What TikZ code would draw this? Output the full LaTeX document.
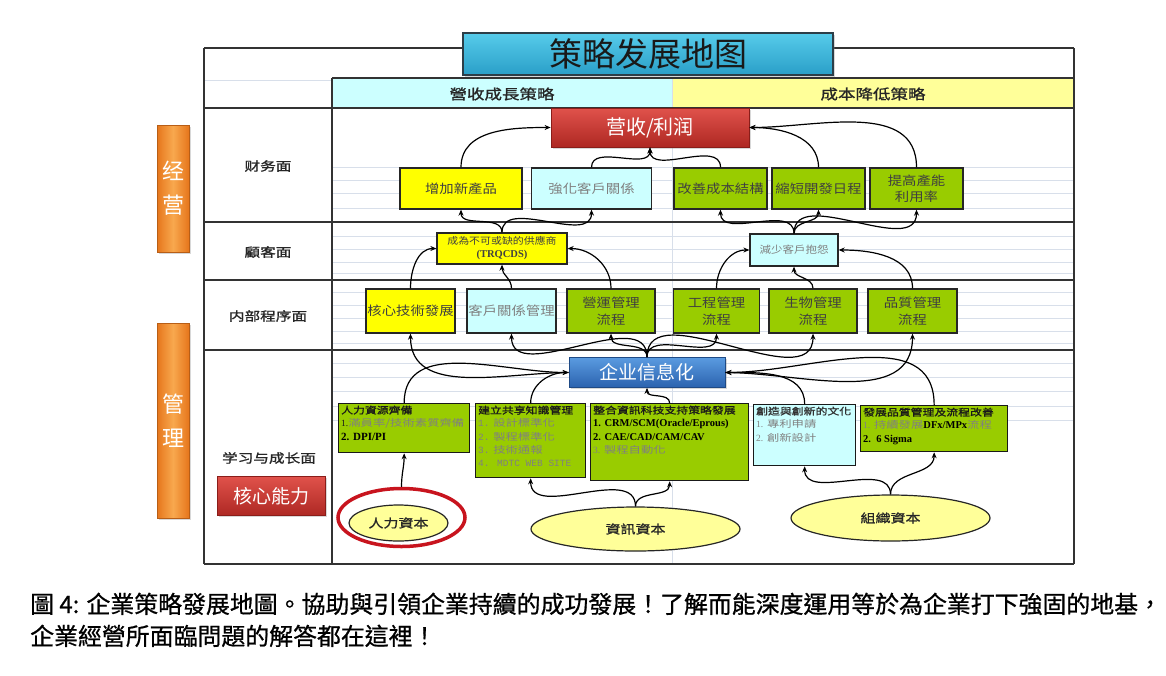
\documentclass[tikz,border=0pt]{standalone}
\usepackage{fontspec}
\newfontfamily\cjktc{Noto Sans CJK TC}
\newfontfamily\cjkcap{Noto Sans CJK TC}[FakeBold=0.8]
\newfontfamily\cjksc{Noto Sans CJK SC}
\newfontfamily\cjkw{Noto Sans CJK TC}[FakeStretch=1.15]
\newfontfamily\cjkww{Noto Sans CJK TC}[FakeStretch=1.3]
\newfontfamily\cjkwb{Noto Sans CJK TC}[FakeStretch=1.25,FakeBold=1.2]
\newfontfamily\lat{Liberation Serif}
\newfontfamily\mono{Liberation Mono}
\usetikzlibrary{arrows.meta,shapes.geometric,shadows}
\definecolor{byellow}{HTML}{FFFF00}
\definecolor{bcyan}{HTML}{CCFFFF}
\definecolor{bgreen}{HTML}{99CC00}
\definecolor{hyellow}{HTML}{FFFF99}
\definecolor{eyellow}{HTML}{FFFF99}
\definecolor{gridc}{HTML}{D8DFEA}
\definecolor{redT}{HTML}{E0524B}
\definecolor{redB}{HTML}{AE2823}
\definecolor{redD}{HTML}{8A1D19}
\definecolor{bluT}{HTML}{5A9BE0}
\definecolor{bluB}{HTML}{2B62AE}
\definecolor{bluD}{HTML}{1F4A85}
\definecolor{titT}{HTML}{56CBEA}
\definecolor{titB}{HTML}{2A9FC8}
\definecolor{titD}{HTML}{2C3E48}
\definecolor{orL}{HTML}{E6761C}
\definecolor{orM}{HTML}{F8A84E}
\definecolor{ringc}{HTML}{C8141E}
\begin{document}
\begin{tikzpicture}[x=1pt,y=-1pt,
  box/.style={draw=black!85, line width=1.3pt, inner sep=1pt, align=center, font=\cjkw\fontsize{12.5}{15}\selectfont},
  ybox/.style={box, fill=byellow, text=black!75},
  cbox/.style={box, fill=bcyan, text=black!50},
  gbox/.style={box, fill=bgreen, text=black!75},
  lbox/.style={draw=black!90, line width=1.3pt, inner sep=0pt, anchor=north west},
  ltext/.style={anchor=north west, inner sep=0pt, align=left, font=\cjkww\fontsize{9.5}{13.2}\selectfont, text=black!50},
  ell/.style={ellipse, draw=black!85, line width=1.2pt, fill=eyellow, inner sep=0pt, font=\cjkwb\fontsize{12}{14}\selectfont, text=black!85},
  conn/.style={draw=black, line width=1.2pt, -{Stealth[length=6pt,width=5pt]}},
  gridl/.style={draw=gridc, line width=0.8pt},
  tline/.style={draw=black!80, line width=1.5pt},
  rowlab/.style={font=\cjkwb\fontsize{12.5}{14}\selectfont, text=black!85},
  hdr/.style={font=\cjkwb\fontsize{14}{16}\selectfont, text=black!85},
  shd/.style={drop shadow={opacity=0.3,shadow xshift=1.5pt,shadow yshift=-1.5pt}},
  redbox/.style={shd, draw=redD, line width=0.8pt, top color=redT, bottom color=redB, text=white, font=\cjksc\fontsize{20}{24}\selectfont},
  obar/.style={shd, draw=orL!80!black, line width=0.6pt, left color=orL, right color=orL, middle color=orM, minimum width=32pt, text=white, align=center, font=\cjksc\fontsize{22}{34}\selectfont},
]
\useasboundingbox (0,0) rectangle (1166,675);
\fill[white] (0,0) rectangle (1166,675);

% faint grid lines
\foreach \yy in {167,180,193,208,236,249,262,273,292,305,318,331,343,363,377,391,406,420}
  \draw[gridl] (332,\yy) -- (1074,\yy);
\draw[gridl] (204,80) -- (332,80);
\draw[gridl] (672,108) -- (672,564);

% header cells
\fill[bcyan] (332,78) rectangle (672,108);
\fill[hyellow] (672,78) rectangle (1074,108);
\draw[gridl] (672,78) -- (672,108);

% table lines
\draw[tline] (204,48) -- (1074,48);
\draw[tline] (204,48) -- (204,564);
\draw[tline] (1074,48) -- (1074,564);
\draw[tline] (204,564) -- (1074,564);
\draw[tline] (332,78) -- (1074,78);
\draw[tline] (332,78) -- (332,564);
\foreach \yy in {108,222,280,350}
  \draw[tline] (204,\yy) -- (1074,\yy);

% headers
\node[hdr] (h1) at (502,94) {營收成長策略};
\node[hdr] (h2) at (873,94) {成本降低策略};

% row labels
\node[rowlab] (r1) at (268,166) {财务面};
\node[rowlab] (r2) at (268,252) {顧客面};
\node[rowlab] (r3) at (268,316) {内部程序面};
\node[rowlab] (r4) at (269,458) {学习与成长面};
\node[redbox, minimum width=108pt, minimum height=39pt, font=\cjktc\fontsize{19}{22}\selectfont] (core) at (271,496) {核心能力};

% orange side bars
\node[obar, minimum height=127pt] (jy) at (173,188.5) {经\\营};
\node[obar, minimum height=195pt] (gl) at (173,420.5) {管\\理};

% revenue box
\node[redbox, minimum width=198pt, minimum height=39pt] (rev) at (650,127.5) {营收/利润};

% financial row
\node[ybox, minimum width=122pt, minimum height=41pt] (f1) at (461,188.5) {增加新產品};
\node[cbox, minimum width=120pt, minimum height=41pt] (f2) at (591.5,188.5) {強化客戶關係};
\node[gbox, minimum width=93pt, minimum height=41pt] (f3) at (720.5,188.5) {改善成本結構};
\node[gbox, minimum width=93pt, minimum height=41pt] (f4) at (818.5,188.5) {縮短開發日程};
\node[gbox, minimum width=93pt, minimum height=41pt, font=\cjkw\fontsize{12.5}{16}\selectfont] (f5) at (916.5,188.5) {提高產能\\利用率};

% customer row
\node[ybox, minimum width=130pt, minimum height=31pt, font=\cjkw\fontsize{9.5}{13}\selectfont] (c1) at (502,248.5) {成為不可或缺的供應商\\{\lat\bfseries\fontsize{10.5}{13}\selectfont (TRQCDS)}};
\node[cbox, minimum width=88pt, minimum height=32pt, font=\cjkw\fontsize{10}{13}\selectfont] (c2) at (794,250) {減少客戶抱怨};

% internal row
\node[ybox, minimum width=89pt, minimum height=44pt] (i1) at (410.5,311) {核心技術發展};
\node[cbox, minimum width=89pt, minimum height=44pt] (i2) at (511.5,311) {客戶關係管理};
\node[gbox, minimum width=88pt, minimum height=44pt, font=\cjkw\fontsize{12.5}{17}\selectfont] (i3) at (611,311) {營運管理\\流程};
\node[gbox, minimum width=86pt, minimum height=44pt, font=\cjkw\fontsize{12.5}{17}\selectfont] (i4) at (716.5,311) {工程管理\\流程};
\node[gbox, minimum width=88pt, minimum height=44pt, font=\cjkw\fontsize{12.5}{17}\selectfont] (i5) at (813,311) {生物管理\\流程};
\node[gbox, minimum width=89pt, minimum height=44pt, font=\cjkw\fontsize{12.5}{17}\selectfont] (i6) at (912.5,311) {品質管理\\流程};

% IT box
\node[shd, draw=bluD, line width=0.8pt, top color=bluT, bottom color=bluB, text=white, font=\cjksc\fontsize{19}{22}\selectfont, minimum width=156pt, minimum height=30pt] (it) at (647,372.5) {企业信息化};

% learning boxes
\node[lbox, fill=bgreen, minimum width=131pt, minimum height=49pt] (l1) at (338,403) {};
\node[lbox, fill=bgreen, minimum width=110pt, minimum height=74pt] (l2) at (475,403) {};
\node[lbox, fill=bgreen, minimum width=158pt, minimum height=77pt] (l3) at (590,403) {};
\node[lbox, fill=bcyan, minimum width=102pt, minimum height=61pt] (l4) at (753,404) {};
\node[lbox, fill=bgreen, minimum width=147pt, minimum height=46pt] (l5) at (860,405) {};

\node[ltext] (t1) at ([xshift=3pt,yshift=-2.5pt]l1.north west) {{\cjkwb\color{black!90}人力資源齊備}\\{\lat\color{black!90}1.}滿員率/技術素質齊備\\{\lat\bfseries\fontsize{11}{13.2}\selectfont\color{black} 2. DPI/PI}};
\node[ltext] (t2) at ([xshift=3pt,yshift=-2.5pt]l2.north west) {{\cjkwb\color{black!90}建立共享知識管理}\\{\mono 1.} 設計標準化\\{\mono 2.} 製程標準化\\{\mono 3.} 技術通報\\{\mono\fontsize{9.5}{13.2}\selectfont 4. MDTC WEB SITE}};
\node[ltext] (t3) at ([xshift=3pt,yshift=-2.5pt]l3.north west) {{\cjkwb\color{black!90}整合資訊科技支持策略發展}\\{\lat\bfseries\fontsize{10.5}{13.2}\selectfont\color{black}1. CRM/SCM(Oracle/Eprous)}\\{\lat\bfseries\fontsize{10.5}{13.2}\selectfont\color{black}2. CAE/CAD/CAM/CAV}\\{\lat 3.} 製程自動化};
\node[ltext] (t4) at ([xshift=3pt,yshift=-2.5pt]l4.north west) {{\cjkwb\color{black!80}創造與創新的文化}\\{\lat 1.} 專利申請\\{\lat 2.} 創新設計};
\node[ltext] (t5) at ([xshift=3pt,yshift=-2.5pt]l5.north west) {{\cjkwb\color{black!90}發展品質管理及流程改善}\\{\lat 1.} 持續發展{\lat\bfseries\fontsize{10.5}{13.2}\selectfont\color{black}DFx/MPx}流程\\{\lat\bfseries\fontsize{10.5}{13.2}\selectfont\color{black}2.\ \ 6 Sigma}};

% capitals
\node[ell, minimum width=99pt, minimum height=36pt] (hc) at (398.5,523) {人力資本};
\node[ellipse, draw=ringc, line width=3.5pt, minimum width=127pt, minimum height=58pt, inner sep=0pt] (hcr) at (401.5,517.5) {};
\node[ell, minimum width=209pt, minimum height=44pt] (ic) at (635.5,529) {資訊資本};
\node[ell, minimum width=199pt, minimum height=46pt] (oc) at (890.5,518) {組織資本};

% title
\node[shd, draw=titD, line width=1.2pt, top color=titT, bottom color=titB, minimum width=370pt, minimum height=42pt, font=\cjksc\fontsize{33}{36}\selectfont, text=black!90] (title) at (648,54) {策略发展地图};

% connectors: financial -> revenue
\draw[conn] (f1.north) to[out=90,in=180] (rev.west);
\draw[conn] (f2.north) to[out=90,in=-90] (rev.south);
\draw[conn] (f3.north) to[out=90,in=-90] (rev.south);
\draw[conn] (f4.north) to[out=90,in=0] (rev.east);
\draw[conn] (f5.north) to[out=90,in=0] (rev.east);

% customer -> financial
\draw[conn] (c1.north) to[out=90,in=-90] (f1.south);
\draw[conn] (c1.north) to[out=90,in=-90] (f2.south);
\draw[conn] (c2.north) to[out=90,in=-90] (f3.south);
\draw[conn] (c2.north) to[out=90,in=-90] (f4.south);
\draw[conn] (c2.north) to[out=90,in=-90] (f5.south);

% internal -> customer
\draw[conn] (i1.north) to[out=90,in=180] (c1.west);
\draw[conn] (i2.north) to[out=90,in=-90] (c1.south);
\draw[conn] (i3.north) to[out=90,in=0] (c1.east);
\draw[conn] (i4.north) to[out=90,in=180] (c2.west);
\draw[conn] (i5.north) to[out=90,in=-90] (c2.south);
\draw[conn] (i6.north) to[out=90,in=0] (c2.east);

% IT -> internal
\draw[conn] (it.west) to[out=180,in=-90] (i1.south);
\draw[conn] (it.north) to[out=90,in=-90] (i2.south);
\draw[conn] (it.north) to[out=90,in=-90] (i3.south);
\draw[conn] (it.north) to[out=90,in=-90] (i4.south);
\draw[conn] (it.north) to[out=90,in=-90] (i5.south);
\draw[conn] (it.east) to[out=0,in=-90] (i6.south);

% learning -> IT
\draw[conn] (l1.north) to[out=90,in=180] (it.west);
\draw[conn] (l2.north) to[out=90,in=180] (it.west);
\draw[conn] (l3.north) to[out=90,in=-90] (it.south);
\draw[conn] (l4.north) to[out=90,in=0] (it.east);
\draw[conn] (l5.north) to[out=90,in=0] (it.east);

% capitals -> learning
\draw[conn] (hcr.north) to[out=90,in=-90] (l1.south);
\draw[conn] (ic.north) to[out=90,in=-90] (l2.south);
\draw[conn] (ic.north) to[out=90,in=-90] (l3.south);
\draw[conn] (oc.north) to[out=90,in=-90] (l4.south);
\draw[conn] (oc.north) to[out=90,in=-90] (l5.south);

% caption
\node[anchor=base west, inner sep=0pt, font=\cjkcap\fontsize{23.9}{28}\selectfont] (cap1) at (30,613) {圖 4: 企業策略發展地圖。協助與引領企業持續的成功發展！了解而能深度運用等於為企業打下強固的地基，};
\node[anchor=base west, inner sep=0pt, font=\cjkcap\fontsize{23.9}{28}\selectfont] (cap2) at (30,645) {企業經營所面臨問題的解答都在這裡！};
\end{tikzpicture}
\end{document}
